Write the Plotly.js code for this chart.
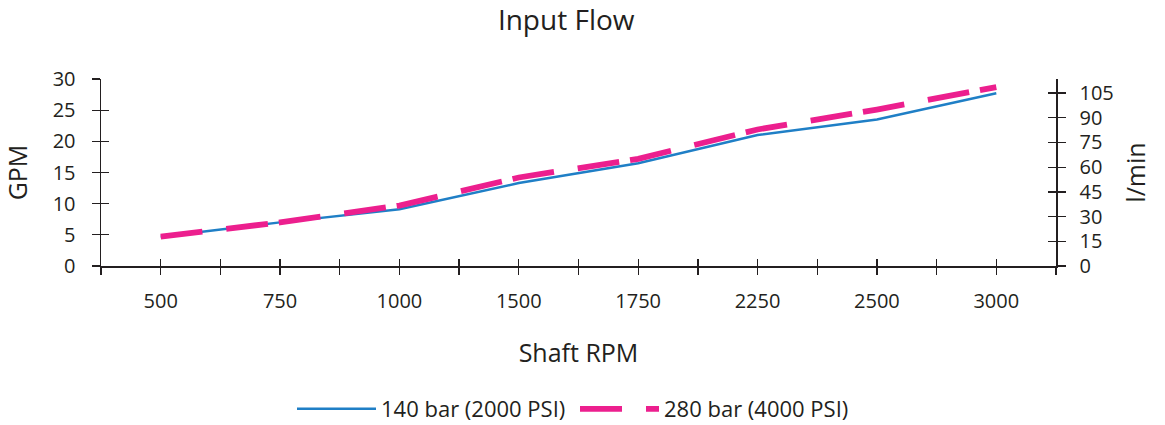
<!DOCTYPE html>
<html>
<head>
<meta charset="utf-8">
<script src="https://cdn.plot.ly/plotly-3.0.1.min.js"></script>
<style>html,body{margin:0;padding:0;background:#fff}#chart{width:1165px;height:425px}</style>
</head>
<body>
<div id="chart"></div>
<script>
const categories = ['500', '750', '1000', '1500', '1750', '2250', '2500', '3000'];
const gpm140 = [4.7, 7.0, 9.1, 13.3, 16.5, 21.0, 23.5, 27.7];
const gpm280 = [4.7, 7.0, 9.7, 14.2, 17.2, 21.9, 25.1, 28.7];
const gpmTicks = [0, 5, 10, 15, 20, 25, 30];
const lminTicks = [0, 15, 30, 45, 60, 75, 90, 105];
const seriesNames = ['140 bar (2000 PSI)', '280 bar (4000 PSI)'];
const GPM_TO_LMIN = 3.785;

const xIdx = categories.map((_, i) => i);
const xTickVals = [];
const xTickText = [];
for (let i = -0.5; i <= categories.length - 0.5 + 1e-9; i += 0.5) {
  xTickVals.push(i);
  const k = Math.round(i);
  xTickText.push(Math.abs(i - k) < 1e-9 ? categories[k] : '');
}
const xRange = [-0.5, categories.length - 0.5];
const gpmRange = [0, 30];
const lminRange = [0, 30 * GPM_TO_LMIN];

const ink = '#231f20';
const font = 'Open Sans, sans-serif';

function axisHolder(xa, ya) {
  return {x: [], y: [], xaxis: xa, yaxis: ya, type: 'scatter', mode: 'lines',
          showlegend: false, hoverinfo: 'skip'};
}

const data = [
  {x: xIdx, y: gpm140, name: seriesNames[0], type: 'scatter', mode: 'lines',
   line: {color: '#1f7fc6', width: 2.5}},
  {x: xIdx, y: gpm280, name: seriesNames[1], type: 'scatter', mode: 'lines',
   line: {color: '#ec1f8e', width: 5.8, dash: '42px,24px,42px,11px'}},
  axisHolder('x2', 'y'),
  axisHolder('x', 'y2'),
  axisHolder('x', 'y3'),
  axisHolder('x', 'y4')
];

const tickCommon = {tickcolor: ink, tickwidth: 1.3};

const layout = {
  width: 1165, height: 425,
  margin: {l: 101, r: 109, t: 79, b: 159},
  paper_bgcolor: '#fff', plot_bgcolor: '#fff',
  font: {family: font, color: ink, size: 20},
  showlegend: true,
  title: {text: 'Input Flow', font: {size: 28, color: ink, family: font},
          x: 0.486, xref: 'container', xanchor: 'center', y: 1 - 20 / 425, yref: 'container', yanchor: 'middle'},
  xaxis: Object.assign({range: xRange, tickmode: 'array', tickvals: xTickVals, ticktext: xTickText,
          ticks: 'outside', ticklen: 7, showline: true, linecolor: ink, linewidth: 1.5,
          showgrid: false, zeroline: false, ticklabelstandoff: 9,
          tickfont: {size: 20, color: ink},
          title: {text: 'Shaft RPM', font: {size: 25, color: ink}, standoff: 32}}, tickCommon),
  xaxis2: Object.assign({range: xRange, overlaying: 'x', anchor: 'y', side: 'bottom', tickmode: 'array',
          tickvals: xTickVals, ticks: 'inside', ticklen: 7, showticklabels: false,
          showline: false, showgrid: false, zeroline: false}, tickCommon),
  yaxis: Object.assign({range: gpmRange, tickmode: 'array', tickvals: gpmTicks,
          ticks: 'outside', ticklen: 8, showline: true, linecolor: ink, linewidth: 1.5,
          showgrid: false, zeroline: false, ticklabelstandoff: 12,
          tickfont: {size: 20, color: ink},
          title: {text: 'GPM', font: {size: 25, color: ink}, standoff: 19}}, tickCommon),
  yaxis3: Object.assign({range: gpmRange, overlaying: 'y', anchor: 'x', side: 'left', tickmode: 'array',
          tickvals: gpmTicks, ticks: 'inside', ticklen: 8, showticklabels: false,
          showline: false, showgrid: false, zeroline: false}, tickCommon),
  yaxis2: Object.assign({range: lminRange, overlaying: 'y', anchor: 'x', side: 'right', tickmode: 'array',
          tickvals: lminTicks, ticks: 'outside', ticklen: 8, showline: true, linecolor: ink, linewidth: 1.5,
          showgrid: false, zeroline: false, ticklabelstandoff: 10,
          tickfont: {size: 20, color: ink},
          title: {text: 'l/min', font: {size: 25, color: ink}, standoff: 14}}, tickCommon),
  yaxis4: Object.assign({range: lminRange, overlaying: 'y', anchor: 'x', side: 'right', tickmode: 'array',
          tickvals: lminTicks, ticks: 'inside', ticklen: 8, showticklabels: false,
          showline: false, showgrid: false, zeroline: false}, tickCommon),
  legend: {orientation: 'h', x: 292 / 1165, xref: 'container', xanchor: 'left',
           y: 1 - 409 / 425, yref: 'container', yanchor: 'middle',
           font: {size: 22, color: ink}, itemwidth: 79, traceorder: 'normal',
           entrywidth: 189, entrywidthmode: 'pixels'}
};

Plotly.newPlot('chart', data, layout, {staticPlot: true, displayModeBar: false});
</script>
</body>
</html>
